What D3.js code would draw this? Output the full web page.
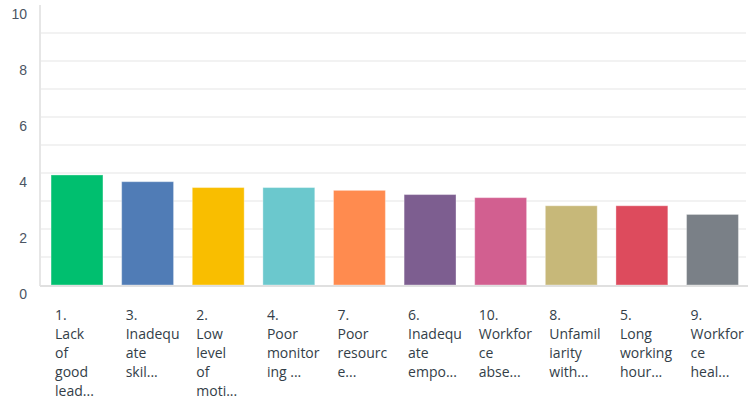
<!DOCTYPE html>
<html><head><meta charset="utf-8">
<script src="https://cdn.jsdelivr.net/npm/d3@7"></script>
<style>
html,body{margin:0;padding:0;background:#fff;}
svg{display:block;}
</style></head>
<body>
<svg id="chart" width="751" height="402"></svg>
<script>
const categories = ["1.","3.","2.","4.","7.","6.","10.","8.","5.","9."];
const labelLines = [
  ["1.","Lack","of","good","lead..."],
  ["3.","Inadequ","ate","skil..."],
  ["2.","Low","level","of","moti..."],
  ["4.","Poor","monitor","ing ..."],
  ["7.","Poor","resourc","e..."],
  ["6.","Inadequ","ate","empo..."],
  ["10.","Workfor","ce","abse..."],
  ["8.","Unfamil","iarity","with..."],
  ["5.","Long","working","hour..."],
  ["9.","Workfor","ce","heal..."]
];
const values = [3.93, 3.69, 3.48, 3.48, 3.38, 3.23, 3.12, 2.83, 2.83, 2.52];
const colors = ["#00bf6f","#507cb6","#f9be00","#6bc8cd","#ff8b4f","#7d5e90","#d25f90","#c7b879","#dd4b5d","#7a8087"];
const yTicks = [0,2,4,6,8,10];
const gridValues = [1,2,3,4,5,6,7,8,9];

const svg = d3.select("#chart");
const y = d3.scaleLinear().domain([0,10]).range([285,5]);
const x = d3.scaleBand().domain(categories).range([41.7,747.8]).paddingInner(0.265).paddingOuter(0.1325);

// gridlines
svg.append("g").selectAll("line").data(gridValues).join("line")
  .attr("x1",41).attr("x2",746)
  .attr("y1",d=>y(d)).attr("y2",d=>y(d))
  .attr("stroke","#f2f2f2").attr("stroke-width",2);

// y axis line
svg.append("line").attr("x1",40).attr("x2",40).attr("y1",y(10)).attr("y2",y(0)+1)
  .attr("stroke","#e6e6e6").attr("stroke-width",2);

// y labels
const yAxis = d3.axisLeft(y).tickValues(yTicks).tickSize(0).tickPadding(0).tickFormat(d3.format("d"));
const gy = svg.append("g").attr("transform","translate(27,8.5)").call(yAxis);
gy.select(".domain").remove();
gy.selectAll("text").attr("fill","#4b5563").attr("font-family","Liberation Sans, Arial, sans-serif").attr("font-size","14px").attr("dy","0.35em");

// bars
svg.append("g").selectAll("rect").data(values).join("rect")
  .attr("x",(d,i)=>x(categories[i]))
  .attr("width",x.bandwidth())
  .attr("y",d=>y(d))
  .attr("height",d=>y(0)-y(d))
  .attr("fill",(d,i)=>colors[i])
  .attr("stroke","rgba(255,255,255,0.35)").attr("stroke-width",1);

// baseline
svg.append("line").attr("x1",40).attr("x2",748).attr("y1",y(0)+1).attr("y2",y(0)+1)
  .attr("stroke","#e0e0e0").attr("stroke-width",2);

// x labels
const gl = svg.append("g");
labelLines.forEach((lines,i)=>{
  const t = gl.append("text")
    .attr("x", x(categories[i])+4)
    .attr("y", 320)
    .attr("fill","#333e48")
    .attr("font-family","Open Sans, sans-serif")
    .attr("font-size","14px");
  lines.forEach((ln,j)=>{
    t.append("tspan").attr("x", x(categories[i])+4).attr("y", 320 + j*19).text(ln);
  });
});
</script>
</body></html>
